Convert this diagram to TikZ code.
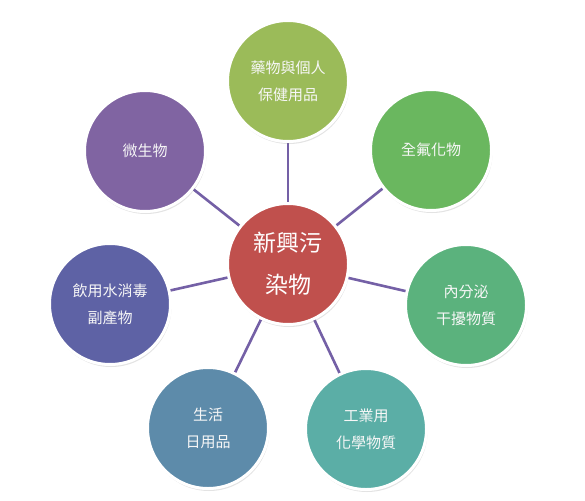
\documentclass[tikz,border=0pt]{standalone}
\usepackage{fontspec}
\newfontfamily\cjk{Noto Sans CJK TC}
\usetikzlibrary{shadows,backgrounds}
\definecolor{cCenter}{RGB}{192,80,77}
\definecolor{cTop}{RGB}{155,187,89}
\definecolor{cTR}{RGB}{106,183,95}
\definecolor{cR}{RGB}{91,178,125}
\definecolor{cBR}{RGB}{91,174,166}
\definecolor{cBL}{RGB}{93,139,170}
\definecolor{cL}{RGB}{94,98,165}
\definecolor{cTL}{RGB}{128,100,162}
\definecolor{cLine}{RGB}{116,96,166}
\tikzset{
  bubble/.style={circle, draw=white, line width=3pt, minimum size=121pt, inner sep=0pt,
    align=center, text=white!94!gray, font=\cjk\fontsize{15}{27}\selectfont,
    drop shadow={opacity=0.22, shadow xshift=1pt, shadow yshift=-2.5pt}},
  hub/.style={bubble, font=\cjk\fontsize{23}{42}\selectfont, text=white},
  link/.style={draw=cLine, line width=2.6pt}
}
\begin{document}
\begin{tikzpicture}[x=1pt,y=-1pt]
\useasboundingbox (0,0) rectangle (585,500);
\node[hub, fill=cCenter] (c) at (288,264) {新興污\\染物};
\node[bubble, fill=cTop] (t) at (288,81) {藥物與個人\\保健用品};
\node[bubble, fill=cTR] (tr) at (431,150) {全氟化物};
\node[bubble, fill=cR] (r) at (466,305) {內分泌\\干擾物質};
\node[bubble, fill=cBR] (br) at (366,429) {工業用\\化學物質};
\node[bubble, fill=cBL] (bl) at (208,428) {生活\\日用品};
\node[bubble, fill=cL] (l) at (110,304) {飲用水消毒\\副產物};
\node[bubble, fill=cTL] (tl) at (145,151) {微生物};
\begin{scope}[on background layer]
\foreach \n in {t,tr,r,br,bl,l,tl} \draw[link] (c.center) -- (\n.center);
\end{scope}
\end{tikzpicture}
\end{document}
